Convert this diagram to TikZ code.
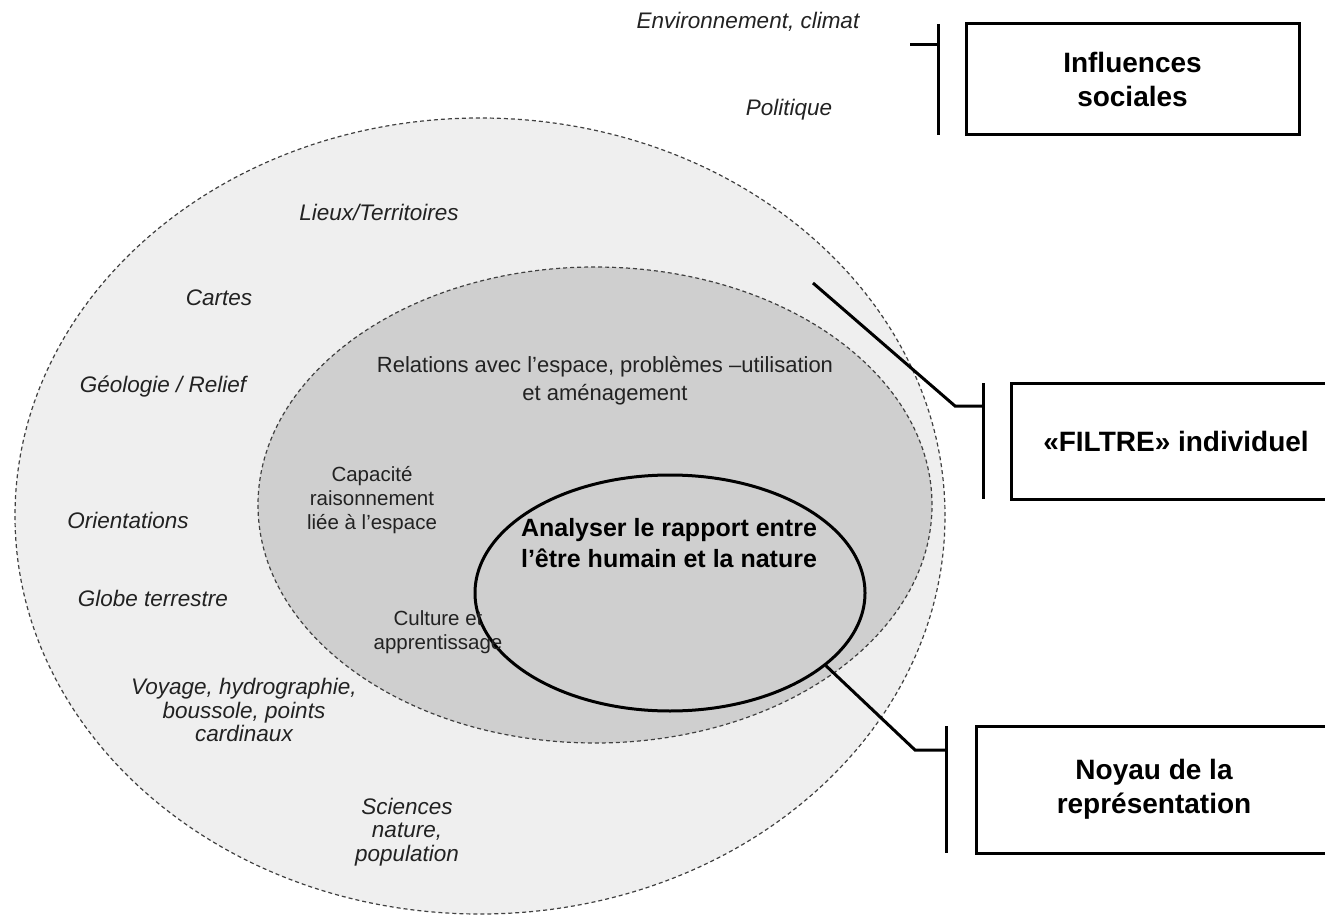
\documentclass[tikz,border=0pt]{standalone}
\usepackage{fontspec}
\setmainfont{Liberation Sans}
\usepackage{tikz}
\definecolor{ringout}{HTML}{EFEFEF}
\definecolor{ringin}{HTML}{CFCFCF}
\definecolor{dashgray}{HTML}{404040}
\definecolor{lbltext}{HTML}{222222}
\usetikzlibrary{shapes.geometric}

\begin{document}
\begin{tikzpicture}[x=1pt,y=-1pt,
    ring/.style={ellipse,draw=dashgray,dash pattern=on 4pt off 3pt,line width=1.2pt,inner sep=0pt},
    outerlbl/.style={font=\fontsize{22.5}{23.5}\selectfont\itshape,text=lbltext,align=center},
    innerlbl/.style={font=\fontsize{20.5}{24}\selectfont,text=lbltext,align=center},
    boxlbl/.style={draw,line width=3pt,inner sep=0pt,outer sep=0pt,font=\fontsize{28}{34}\selectfont\bfseries,align=center},
    bracket/.style={line width=3pt}]
  \clip (0,0) rectangle (1325,917);
  % rings of the representation
  \node[ring,fill=ringout,minimum width=930,minimum height=796] (outer) at (480,516) {};
  \node[ring,fill=ringin,minimum width=674,minimum height=476] (inner) at (595,505) {};
  \node[ellipse,draw,line width=3pt,fill=ringin,minimum width=390,minimum height=236,inner sep=0pt] (core) at (670,593) {};
  \node[font=\fontsize{25}{30.5}\selectfont\bfseries,align=center] (analyse) at (669,543) {Analyser le rapport entre\\l'être humain et la nature};

  % social influences, outside
  \node[outerlbl] (env) at (748,22) {Environnement, climat};
  \node[outerlbl] (pol) at (789,110) {Politique};

  % outer ring
  \node[outerlbl] (lieux) at (379,212) {Lieux/Territoires};
  \node[outerlbl] (cartes) at (219,298) {Cartes};
  \node[outerlbl] (geo) at (163,387) {Géologie / Relief};
  \node[outerlbl] (orient) at (128,520) {Orientations};
  \node[outerlbl] (globe) at (153,598) {Globe terrestre};
  \node[outerlbl] (voyage) at (244,710) {Voyage, hydrographie,\\boussole, points\\cardinaux};
  \node[outerlbl] (sciences) at (407,832) {Sciences\\nature,\\population};

  % inner ring
  \node[innerlbl,font=\fontsize{22}{28}\selectfont] (relations) at (605,381) {Relations avec l'espace, problèmes –utilisation\\et aménagement};
  \node[innerlbl] (capacite) at (372,500) {Capacité\\raisonnement\\liée à l'espace};
  \node[innerlbl] (culture) at (438,632) {Culture et\\apprentissage};

  % boxes on the right
  \node[boxlbl,minimum width=333,minimum height=111] (infl) at (1132.5,79.5) {Influences\\sociales};
  \node[boxlbl,minimum width=330,minimum height=116] (filtre) at (1176,441) {«FILTRE» individuel};
  \node[boxlbl,minimum width=356,minimum height=127] (noyau) at (1154,789.5) {Noyau de la\\représentation};

  % brackets
  \draw[bracket] ([xshift=-28pt]infl.north west) -- ([xshift=-28pt]infl.south west);
  \draw[bracket] ([shift={(-56pt,-21pt)}]infl.north west) -- ([shift={(-28pt,-21pt)}]infl.north west);

  \coordinate (filtre end) at (813,283);
  \draw[bracket] ([xshift=-28pt]filtre.north west) -- ([xshift=-28pt]filtre.south west);
  \draw[bracket] (filtre end) -- ([shift={(-56pt,-23pt)}]filtre.north west) -- ([shift={(-28pt,-23pt)}]filtre.north west);

  \draw[bracket] ([xshift=-30pt]noyau.north west) -- ([xshift=-30pt]noyau.south west);
  \draw[bracket] (core.-25) -- ([shift={(-61pt,-24pt)}]noyau.north west) -- ([shift={(-30pt,-24pt)}]noyau.north west);
\end{tikzpicture}
\end{document}
